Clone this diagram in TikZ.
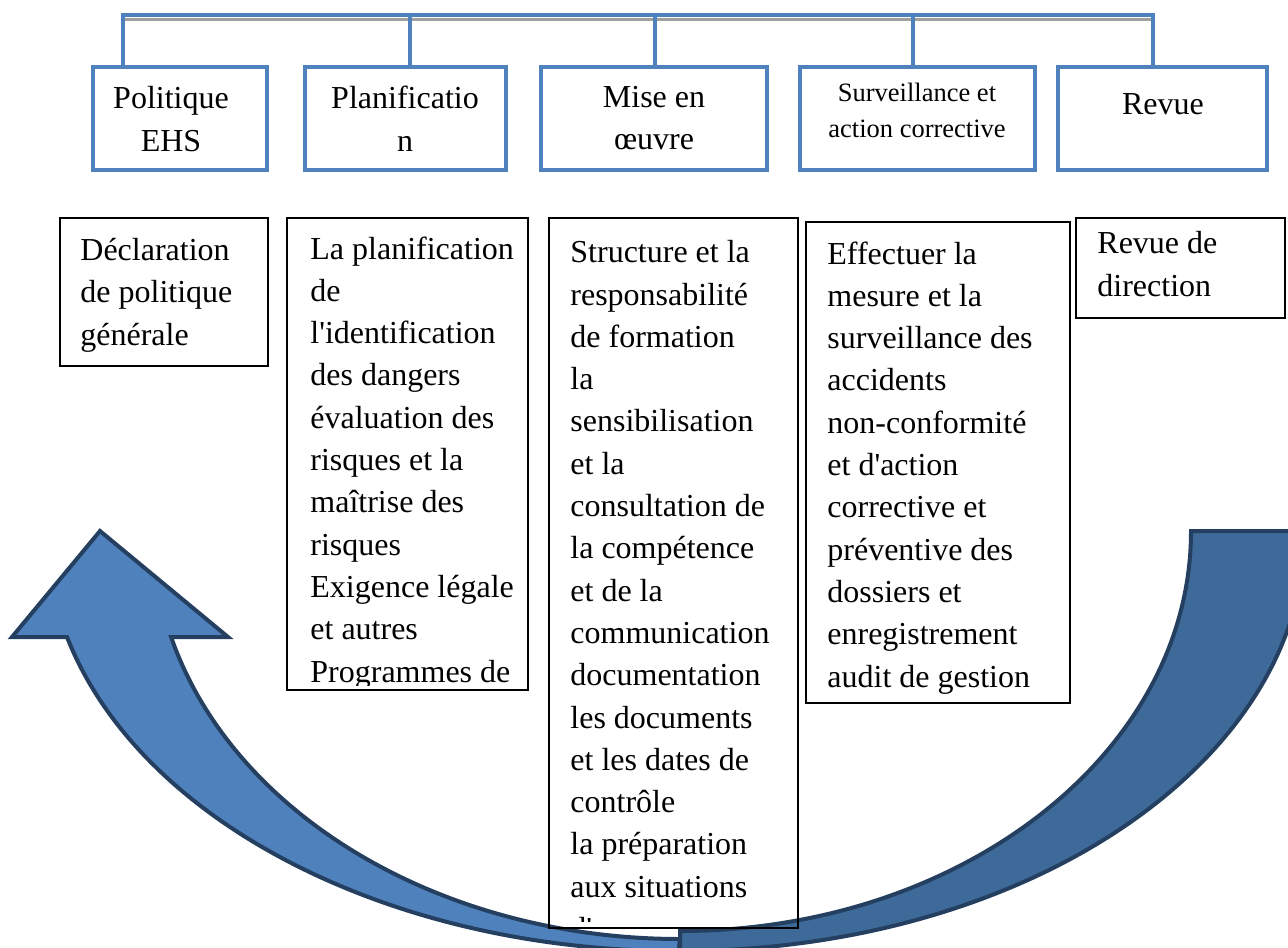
\documentclass[tikz,border=0pt]{standalone}
\usepackage{fontspec}
\setmainfont{Liberation Serif}[Ligatures=TeXOff]
\usetikzlibrary{fit}
\definecolor{boxblue}{HTML}{4F81BD}
\definecolor{arrowlight}{HTML}{4F81BD}
\definecolor{arrowdark}{HTML}{3E6A9A}
\definecolor{arrowline}{HTML}{243F60}
\definecolor{barshadow}{HTML}{A0A0A0}

\begin{document}
% text nodes are placed by the baseline of their last line
\begin{tikzpicture}[x=0.5pt,y=-0.5pt,
  headbox/.style={draw=boxblue, line width=2.4pt, inner sep=0pt, fill=white},
  detailbox/.style={draw=black, line width=0.9pt, inner sep=0pt},
  link/.style={draw=boxblue, line width=2.4pt, line join=miter},
  headtext/.style={anchor=base, align=center, inner sep=0pt,
    font=\fontsize{16}{21}\selectfont},
  smallhead/.style={anchor=base, align=center, inner sep=0pt,
    font=\fontsize{13.25}{17.5}\selectfont},
  detailtext/.style={anchor=base west, align=left, inner sep=0pt,
    font=\fontsize{16}{21.15}\selectfont},
  bigarrow/.style={draw=arrowline, line width=2pt, line join=miter}
]
\useasboundingbox (0,0) rectangle (1288,947);

% ---- curved return arrow ----
\begin{scope}
\clip (0,0) rectangle (1288,947);
% right half of the band
\path[bigarrow, fill=arrowdark] (1191,531)
  arc[start angle=0, end angle=90, x radius=511, y radius=400]
  -- ++(0,20)
  arc[start angle=90, end angle=0, x radius=625, y radius=420]
  -- cycle;
% left half with the arrow head
\path[bigarrow, fill=arrowlight] (67,637)
  arc[start angle=165.4, end angle=90, x radius=632, y radius=420]
  -- (680,939)
  arc[start angle=90, end angle=164.94, x radius=527, y radius=408]
  -- (228,637) -- (100,531) -- (12,637) -- cycle;
\end{scope}

% ---- heading boxes ----
\node[headbox, fit={(93,67) (267,170)}] (t1) {};
\node[headbox, fit={(305,67) (506,170)}] (t2) {};
\node[headbox, fit={(541,67) (767,170)}] (t3) {};
\node[headbox, fit={(800,67) (1035,170)}] (t4) {};
\node[headbox, fit={(1058,67) (1267,170)}] (t5) {};

\node[headtext] (t1txt) at (171,151) {Politique\\EHS};
\node[headtext] (t2txt) at (405,151) {Planificatio\\n};
\node[headtext] (t3txt) at (654,149) {Mise en\\œuvre};
\node[smallhead] (t4txt) at (917,137) {Surveillance et\\action corrective};
\node[headtext] (t5txt) at (1163,114) {Revue};

% ---- top connector bar ----
\coordinate (k1) at (123,15);
\coordinate (k2) at (410,15);
\coordinate (k3) at (655,15);
\coordinate (k4) at (913,15);
\coordinate (k5) at (1153,15);
\draw[barshadow, line width=1.6pt] ([yshift=-2.2pt]k1) -- ([yshift=-2.2pt]k5);
\draw[link] (k1 |- t1.north) -- (k1) -- (k5) -- (k5 |- t5.north);
\draw[link] (k2) -- (k2 |- t2.north);
\draw[link] (k3) -- (k3 |- t3.north);
\draw[link] (k4) -- (k4 |- t4.north);

% ---- detail boxes ----
\node[detailbox, fit={(60,218) (268,366)}] (b1) {};
\node[detailbox, fit={(287,218) (528,690)}] (b2) {};
\node[detailbox, fit={(549,218) (798,928)}] (b3) {};
\node[detailbox, fit={(806,222) (1070,703)}] (b4) {};
\node[detailbox, fit={(1076,218) (1285,318)}] (b5) {};

\node[detailtext] (b1txt) at (80,345) {Déclaration\\de politique\\générale};

\begin{scope}
\clip (b2.north west) rectangle ([yshift=2.5pt]b2.south east);
\node[detailtext] (b2txt) at (310,682) {La planification\\de\\l'identification\\des dangers\\évaluation des\\risques et la\\maîtrise des\\risques\\Exigence légale\\et autres\\Programmes de};
\end{scope}

\begin{scope}
\clip (b3.north west) rectangle ([yshift=3.6pt]b3.south east);
\node[detailtext] (b3txt) at (570,939.5) {Structure et la\\responsabilité\\de formation\\la\\sensibilisation\\et la\\consultation de\\la compétence\\et de la\\communication\\documentation\\les documents\\et les dates de\\contrôle\\la préparation\\aux situations\\d'urgence};
\end{scope}

\node[detailtext] (b4txt) at (827,687) {Effectuer la\\mesure et la\\surveillance des\\accidents\\non-conformité\\et d'action\\corrective et\\préventive des\\dossiers et\\enregistrement\\audit de gestion};

\node[detailtext] (b5txt) at (1097,296) {Revue de\\direction};
\end{tikzpicture}
\end{document}
